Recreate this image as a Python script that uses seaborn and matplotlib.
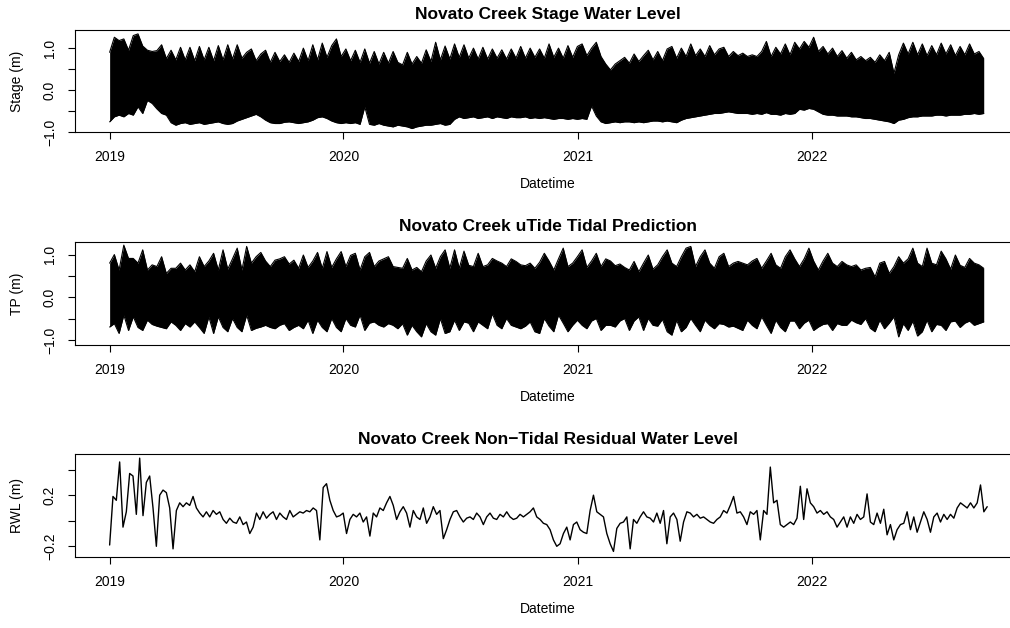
import pandas as pd
import matplotlib
matplotlib.use('Agg')
import matplotlib.pyplot as plt
import seaborn as sns

stage_upper = [
    0.90, 1.26, 1.18, 1.22, 0.95, 1.30, 1.34, 1.05, 0.95, 0.92,
    0.94, 1.08, 0.75, 0.95, 0.72, 1.02, 0.72, 1.02, 0.70, 1.04,
    0.72, 1.02, 0.70, 1.06, 0.72, 1.08, 0.74, 1.08, 0.76, 0.90,
    0.98, 0.70, 0.86, 0.95, 0.66, 0.90, 0.68, 0.84, 0.66, 0.88,
    0.68, 1.00, 0.70, 1.08, 0.72, 1.12, 0.78, 1.06, 1.22, 0.80,
    0.98, 0.70, 0.95, 0.66, 0.98, 0.64, 0.92, 0.62, 0.90, 0.64,
    0.92, 0.66, 0.60, 0.90, 0.62, 0.80, 0.64, 0.96, 0.68, 1.14,
    0.72, 1.05, 0.74, 1.10, 0.78, 1.08, 0.76, 1.00, 0.74, 1.02,
    0.74, 0.98, 0.76, 0.96, 0.74, 0.98, 0.76, 1.04, 0.76, 1.00,
    0.78, 0.98, 0.76, 1.10, 0.78, 1.00, 0.76, 1.06, 0.78, 1.04,
    1.10, 0.82, 1.00, 1.14, 0.80, 0.62, 0.48, 0.62, 0.70, 0.78,
    0.64, 0.86, 0.68, 0.82, 0.95, 0.72, 0.92, 0.70, 0.98, 1.04,
    0.76, 1.00, 0.80, 1.10, 0.82, 0.98, 0.80, 1.06, 0.84, 0.98,
    1.02, 0.80, 0.92, 0.82, 0.88, 0.80, 0.84, 0.80, 0.92, 1.16,
    0.80, 1.02, 0.86, 1.10, 0.84, 1.14, 0.98, 1.16, 1.02, 1.26,
    0.92, 1.04, 0.86, 1.00, 0.80, 0.94, 0.76, 0.90, 0.72, 0.80,
    0.70, 0.78, 0.66, 0.84, 0.70, 0.90, 0.40, 0.84, 1.12, 0.86,
    1.14, 0.84, 1.10, 0.82, 1.06, 0.84, 1.12, 0.86, 1.08, 0.82,
    1.04, 0.84, 1.10, 0.86, 0.92, 0.75,
]
stage_lower = [
    -0.76, -0.64, -0.60, -0.64, -0.56, -0.60, -0.40, -0.56, -0.25, -0.32,
    -0.45, -0.56, -0.60, -0.78, -0.84, -0.80, -0.78, -0.82, -0.80, -0.78,
    -0.82, -0.80, -0.78, -0.76, -0.80, -0.82, -0.80, -0.74, -0.70, -0.66,
    -0.62, -0.58, -0.64, -0.72, -0.78, -0.80, -0.80, -0.77, -0.76, -0.78,
    -0.80, -0.78, -0.76, -0.72, -0.66, -0.64, -0.68, -0.74, -0.78, -0.80,
    -0.78, -0.80, -0.78, -0.82, -0.40, -0.82, -0.84, -0.80, -0.84, -0.86,
    -0.88, -0.84, -0.86, -0.88, -0.92, -0.88, -0.86, -0.84, -0.84, -0.82,
    -0.80, -0.84, -0.82, -0.70, -0.64, -0.68, -0.66, -0.64, -0.68, -0.66,
    -0.64, -0.68, -0.64, -0.66, -0.68, -0.64, -0.66, -0.66, -0.64, -0.68,
    -0.66, -0.68, -0.66, -0.68, -0.70, -0.68, -0.68, -0.70, -0.68, -0.70,
    -0.68, -0.70, -0.38, -0.62, -0.76, -0.80, -0.78, -0.76, -0.78, -0.76,
    -0.76, -0.78, -0.76, -0.78, -0.76, -0.74, -0.74, -0.76, -0.74, -0.76,
    -0.78, -0.72, -0.68, -0.66, -0.64, -0.62, -0.60, -0.58, -0.56, -0.56,
    -0.54, -0.52, -0.54, -0.56, -0.56, -0.56, -0.58, -0.56, -0.58, -0.54,
    -0.58, -0.58, -0.60, -0.56, -0.58, -0.56, -0.46, -0.48, -0.44, -0.46,
    -0.52, -0.58, -0.60, -0.60, -0.62, -0.62, -0.62, -0.64, -0.64, -0.66,
    -0.68, -0.68, -0.70, -0.72, -0.74, -0.76, -0.80, -0.72, -0.70, -0.66,
    -0.64, -0.64, -0.62, -0.62, -0.62, -0.60, -0.60, -0.62, -0.60, -0.60,
    -0.60, -0.58, -0.58, -0.56, -0.58, -0.56,
]
tp_upper = [
    0.80, 1.00, 0.64, 1.22, 0.91, 0.91, 0.80, 1.11, 0.64, 0.76,
    0.72, 0.95, 0.56, 0.68, 0.68, 0.80, 0.64, 0.76, 0.60, 0.95,
    0.72, 0.85, 1.03, 0.64, 1.11, 0.66, 0.90, 1.15, 0.64, 1.19,
    0.80, 0.95, 1.05, 0.85, 0.72, 0.87, 0.90, 0.95, 0.78, 0.87,
    0.68, 0.99, 0.70, 0.85, 1.05, 0.68, 1.07, 0.70, 0.90, 1.07,
    0.72, 0.98, 1.03, 0.64, 0.95, 1.05, 0.72, 0.85, 0.90, 0.95,
    0.72, 0.70, 0.68, 0.91, 0.64, 0.70, 0.60, 0.85, 0.99, 0.68,
    0.95, 1.11, 0.68, 1.11, 0.68, 1.08, 0.75, 0.72, 1.03, 0.72,
    0.76, 0.91, 0.85, 0.80, 0.72, 0.90, 0.84, 0.76, 0.74, 0.80,
    0.68, 0.82, 1.03, 0.85, 0.64, 0.90, 1.15, 0.72, 0.80, 0.95,
    1.11, 0.70, 0.85, 1.03, 0.72, 0.90, 0.85, 0.74, 0.78, 0.70,
    0.64, 0.84, 0.60, 0.80, 0.99, 0.66, 0.76, 0.95, 1.11, 0.80,
    0.72, 0.95, 1.15, 1.19, 0.72, 0.95, 1.11, 0.80, 0.68, 0.95,
    1.03, 0.72, 0.80, 0.84, 0.80, 0.76, 0.85, 0.91, 0.68, 0.85,
    1.03, 0.76, 0.68, 0.95, 1.11, 0.90, 0.72, 0.90, 1.15, 0.85,
    0.64, 0.85, 1.03, 0.80, 0.72, 0.84, 0.76, 0.72, 0.76, 0.64,
    0.68, 0.70, 0.48, 0.80, 0.84, 0.56, 0.72, 0.95, 0.80, 0.90,
    1.15, 0.80, 0.72, 1.15, 0.80, 0.76, 1.08, 0.90, 0.66, 0.99,
    0.75, 0.70, 0.91, 0.80, 0.76, 0.68,
]
tp_lower = [
    -0.69, -0.61, -0.84, -0.41, -0.77, -0.45, -0.70, -0.77, -0.53, -0.63,
    -0.67, -0.70, -0.73, -0.57, -0.65, -0.77, -0.61, -0.69, -0.57, -0.70,
    -0.84, -0.45, -0.84, -0.45, -0.70, -0.80, -0.49, -0.70, -0.80, -0.41,
    -0.77, -0.72, -0.69, -0.65, -0.70, -0.73, -0.65, -0.61, -0.77, -0.70,
    -0.65, -0.73, -0.53, -0.84, -0.53, -0.70, -0.80, -0.49, -0.70, -0.80,
    -0.49, -0.65, -0.69, -0.41, -0.77, -0.60, -0.57, -0.65, -0.69, -0.61,
    -0.65, -0.73, -0.61, -0.88, -0.65, -0.80, -0.92, -0.61, -0.80, -0.88,
    -0.49, -0.84, -0.80, -0.53, -0.77, -0.57, -0.60, -0.80, -0.57, -0.65,
    -0.73, -0.38, -0.65, -0.73, -0.49, -0.65, -0.69, -0.73, -0.67, -0.57,
    -0.80, -0.84, -0.49, -0.67, -0.80, -0.41, -0.60, -0.80, -0.65, -0.53,
    -0.65, -0.73, -0.55, -0.49, -0.77, -0.65, -0.65, -0.69, -0.55, -0.49,
    -0.77, -0.55, -0.45, -0.77, -0.49, -0.65, -0.67, -0.51, -0.80, -0.88,
    -0.53, -0.80, -0.70, -0.49, -0.65, -0.80, -0.53, -0.65, -0.73, -0.61,
    -0.63, -0.69, -0.67, -0.72, -0.77, -0.53, -0.65, -0.73, -0.45, -0.65,
    -0.84, -0.53, -0.70, -0.80, -0.55, -0.55, -0.73, -0.60, -0.53, -0.77,
    -0.69, -0.63, -0.61, -0.77, -0.61, -0.65, -0.65, -0.53, -0.59, -0.63,
    -0.49, -0.72, -0.80, -0.53, -0.73, -0.60, -0.45, -0.92, -0.61, -0.77,
    -0.55, -0.90, -0.80, -0.53, -0.80, -0.63, -0.65, -0.77, -0.57, -0.55,
    -0.70, -0.60, -0.55, -0.65, -0.61, -0.57,
]
# non-tidal residual, read off every 125 h
rwl = [
    -0.19, 0.19, 0.16, 0.46, -0.05, 0.07, 0.37, 0.35, 0.05, 0.49,
    0.04, 0.30, 0.35, 0.10, -0.20, 0.20, 0.24, 0.22, 0.10, -0.22,
    0.08, 0.14, 0.11, 0.14, 0.12, 0.19, 0.10, 0.06, 0.03, 0.07,
    0.03, 0.08, 0.05, 0.07, 0.01, -0.02, 0.02, -0.01, -0.02, 0.03,
    -0.03, -0.01, -0.10, -0.05, 0.06, 0.01, 0.07, 0.02, 0.05, 0.07,
    0.01, 0.06, 0.03, 0.01, 0.08, 0.03, 0.05, 0.07, 0.06, 0.08,
    0.07, 0.10, 0.08, -0.15, 0.26, 0.29, 0.16, 0.08, 0.03, 0.04,
    0.06, -0.10, 0.01, 0.05, 0.03, 0.06, -0.01, 0.03, -0.12, 0.06,
    0.03, 0.10, 0.08, 0.14, 0.19, 0.12, 0.01, 0.07, 0.11, 0.06,
    -0.05, 0.08, 0.03, 0.01, 0.10, -0.02, 0.03, 0.11, 0.05, 0.08,
    -0.14, -0.07, 0.01, 0.07, 0.08, 0.03, -0.01, 0.02, 0.03, 0.01,
    0.06, 0.03, -0.03, 0.03, 0.06, 0.02, 0.01, 0.05, 0.03, 0.07,
    0.03, 0.01, 0.02, 0.05, 0.03, 0.05, 0.07, 0.10, 0.03, 0.01,
    -0.02, -0.03, -0.07, -0.15, -0.20, -0.18, -0.10, -0.05, -0.15, -0.03,
    -0.01, -0.07, -0.09, -0.10, 0.08, 0.20, 0.07, 0.05, 0.03, -0.10,
    -0.18, -0.24, -0.06, -0.02, -0.01, 0.03, -0.22, 0.01, -0.02, 0.03,
    0.07, 0.03, 0.02, -0.01, 0.06, -0.02, 0.08, -0.18, 0.03, 0.06,
    0.01, -0.16, -0.01, 0.07, 0.06, 0.03, 0.05, 0.02, 0.03, 0.01,
    -0.01, -0.02, 0.01, 0.03, 0.08, 0.06, 0.12, 0.19, 0.06, 0.07,
    0.03, -0.03, 0.07, 0.05, 0.08, -0.15, 0.08, 0.05, 0.42, 0.14,
    0.16, -0.03, -0.05, -0.03, -0.01, -0.03, 0.02, 0.27, 0.01, 0.25,
    0.14, 0.11, 0.06, 0.08, 0.05, 0.07, 0.03, 0.01, -0.05, -0.01,
    0.03, -0.05, 0.03, -0.02, 0.05, 0.01, 0.03, 0.21, -0.01, -0.03,
    0.06, -0.02, 0.09, -0.11, -0.03, -0.15, -0.07, -0.03, -0.02, 0.07,
    -0.07, 0.03, -0.09, -0.01, 0.07, 0.01, -0.09, 0.03, 0.06, -0.01,
    0.05, 0.01, 0.05, 0.02, 0.10, 0.14, 0.12, 0.10, 0.14, 0.10,
    0.14, 0.28, 0.07, 0.11,
]

years = [2019, 2020, 2021, 2022]
year_labels = ['2019', '2020', '2021', '2022']

env_time = pd.date_range('2019-01-01', periods=len(stage_upper), freq='177h')
rwl_time = pd.date_range('2019-01-01', periods=len(rwl), freq='125h')

sns.set_style('white')
plt.rcParams['font.family'] = ['Liberation Sans', 'DejaVu Sans']
plt.rcParams['text.color'] = 'black'
plt.rcParams['axes.labelcolor'] = 'black'
plt.rcParams['xtick.color'] = 'black'
plt.rcParams['ytick.color'] = 'black'

fig = plt.figure(figsize=(10.1, 6.28), dpi=100)

# R-style panels: the right side of the frame runs past the picture edge
ax1 = fig.add_axes([0.0743, 0.7893, 0.9356, 0.1634])
ax2 = fig.add_axes([0.0743, 0.4506, 0.9356, 0.1645])
ax3 = fig.add_axes([0.0743, 0.1126, 0.9356, 0.1640])


def style_panel(ax, title, ylabel, ylim, yticks, ylabels):
    ax.set_xlim(pd.Timestamp('2018-11-08'), pd.Timestamp('2022-11-22'))
    ax.set_ylim(*ylim)
    ax.set_xticks([pd.Timestamp(f'{y}-01-01') for y in years])
    ax.set_xticklabels(year_labels)
    ax.set_yticks(yticks)
    ax.set_yticklabels(ylabels, rotation=90, va='center')
    ax.tick_params(direction='out', length=5, width=0.8, labelsize=10,
                   color='black', labelcolor='black', pad=8, left=True, bottom=True)
    for sp in ax.spines.values():
        sp.set_visible(True)
        sp.set_color('black')
        sp.set_linewidth(0.8)
    ax.set_xlabel('Datetime', fontsize=10, va='center', color='black')
    ax.xaxis.set_label_coords(0.5, -0.5)
    ax.set_ylabel(ylabel, fontsize=10, va='center', color='black')
    ax.yaxis.set_label_coords(-0.061, 0.5)
    ax.text(0.5, 1.145, title, transform=ax.transAxes, ha='center',
            va='center', fontsize=12.5, fontweight='bold', color='black')
    ax.grid(False)


# stage
ax1.fill_between(env_time, stage_lower, stage_upper, color='black', lw=0)
sns.lineplot(x=env_time, y=stage_upper, ax=ax1, color='black', lw=0.8)
sns.lineplot(x=env_time, y=stage_lower, ax=ax1, color='black', lw=0.8)
style_panel(ax1, 'Novato Creek Stage Water Level', 'Stage (m)', (-1.01, 1.44),
            [-1.0, -0.5, 0.0, 0.5, 1.0], ['\u22121.0', '', '0.0', '', '1.0'])

# tidal prediction
ax2.fill_between(env_time, tp_lower, tp_upper, color='black', lw=0)
sns.lineplot(x=env_time, y=tp_upper, ax=ax2, color='black', lw=0.8)
sns.lineplot(x=env_time, y=tp_lower, ax=ax2, color='black', lw=0.8)
style_panel(ax2, 'Novato Creek uTide Tidal Prediction', 'TP (m)', (-1.11, 1.30),
            [-1.0, -0.5, 0.0, 0.5, 1.0], ['\u22121.0', '', '0.0', '', '1.0'])

# residual
sns.lineplot(x=rwl_time, y=rwl, ax=ax3, color='black', lw=1.0)
style_panel(ax3, 'Novato Creek Non\u2212Tidal Residual Water Level', 'RWL (m)',
            (-0.286, 0.52), [-0.2, 0.0, 0.2, 0.4], ['\u22120.2', '', '0.2', ''])

plt.savefig('out.png', dpi=100)
